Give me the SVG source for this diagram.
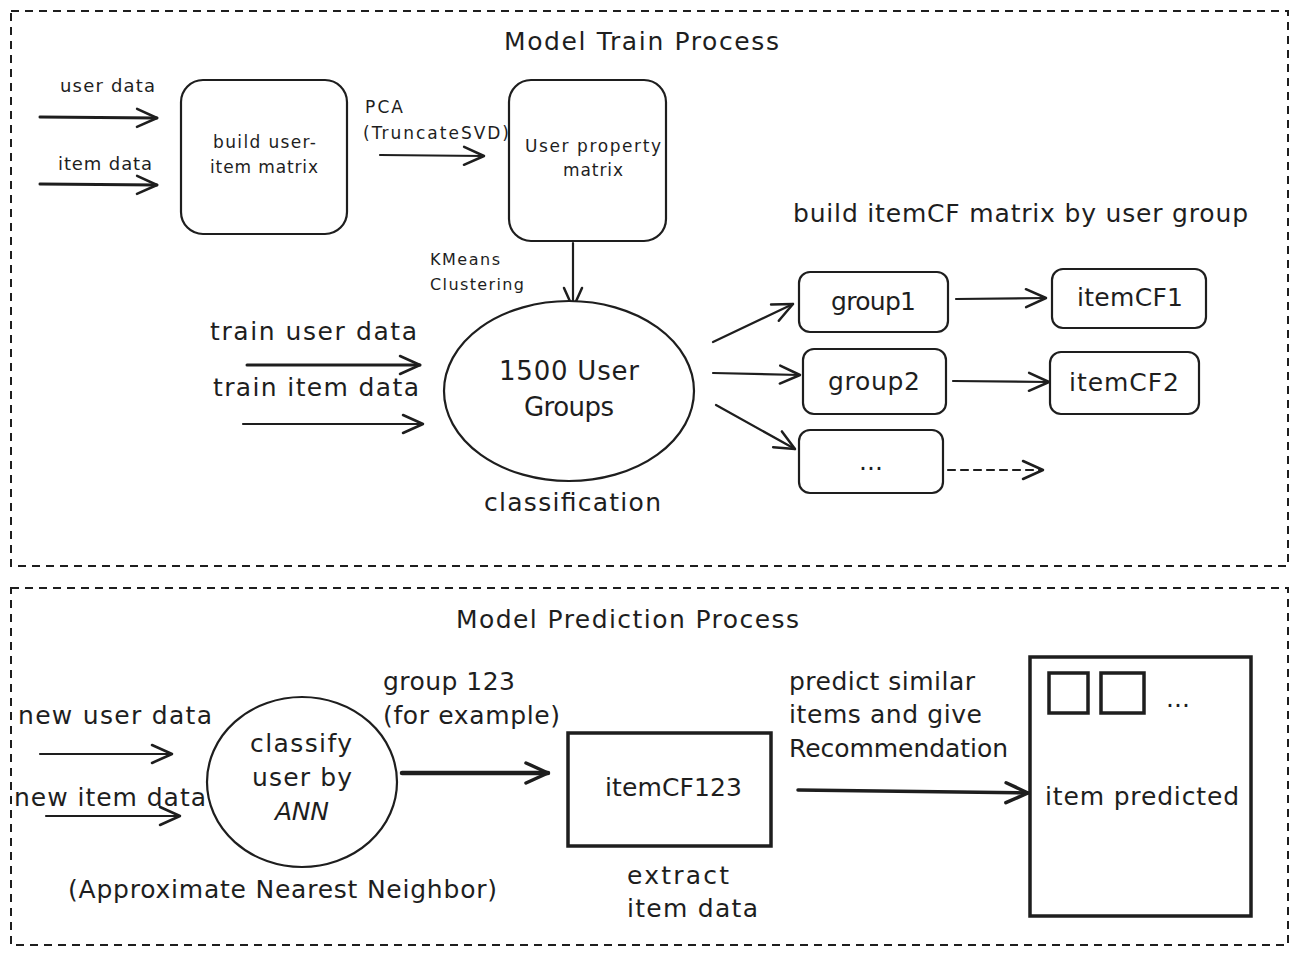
<svg xmlns="http://www.w3.org/2000/svg" width="1300" height="955" viewBox="0 0 1300 955">
<defs>
<style>
.t{font-family:"DejaVu Sans","Liberation Sans",sans-serif;fill:#1e1e1e;}
.s16{font-size:16px}.s17{font-size:17px}.s18{font-size:18px}.s24{font-size:25px}.s25{font-size:26px}
.box{fill:#fff;stroke:#1e1e1e;stroke-width:2.2}
.thick{fill:#fff;stroke:#1e1e1e;stroke-width:3.5}
.frame{fill:none;stroke:#1e1e1e;stroke-width:2;stroke-dasharray:8 6}
.c{fill:none;stroke:#1e1e1e;stroke-width:2.2;stroke-linecap:round}
</style>
<marker id="ah" viewBox="0 0 24 24" markerWidth="24" markerHeight="24" refX="22" refY="12" orient="auto" markerUnits="userSpaceOnUse">
<path d="M2,3 L22,12 L2,21" fill="none" stroke="#1e1e1e" stroke-width="2.5" stroke-linecap="round" stroke-linejoin="round"/>
</marker>
<marker id="ahT" viewBox="0 0 28 28" markerWidth="28" markerHeight="28" refX="25" refY="14" orient="auto" markerUnits="userSpaceOnUse">
<path d="M3,4 L25,14 L3,24" fill="none" stroke="#1e1e1e" stroke-width="3.5" stroke-linecap="round" stroke-linejoin="round"/>
</marker>
</defs>
<rect width="1300" height="955" fill="#fff"/>

<g id="frame-train">
<rect class="frame" x="11" y="11" width="1277" height="555"/>
<text class="t s24" x="504" y="50" textLength="275" lengthAdjust="spacing">Model Train Process</text>
</g>
<g id="frame-predict">
<rect class="frame" x="11" y="588" width="1277" height="357"/>
<text class="t s24" x="456" y="628" textLength="343" lengthAdjust="spacing">Model Prediction Process</text>
</g>

<g id="connectors">
<line class="c" x1="40" y1="117" x2="157" y2="118" marker-end="url(#ah)" style="stroke-width:3"/>
<line class="c" x1="40" y1="184" x2="157" y2="185" marker-end="url(#ah)" style="stroke-width:3"/>
<line class="c" x1="380" y1="155" x2="484" y2="156" marker-end="url(#ah)"/>
<line class="c" x1="573" y1="243" x2="573" y2="308" marker-end="url(#ah)"/>
<line class="c" x1="247" y1="365" x2="420" y2="365" marker-end="url(#ah)" style="stroke-width:3"/>
<line class="c" x1="243" y1="424" x2="423" y2="424" marker-end="url(#ah)"/>
<line class="c" x1="713" y1="342" x2="793" y2="304" marker-end="url(#ah)"/>
<line class="c" x1="713" y1="373" x2="800" y2="375" marker-end="url(#ah)"/>
<line class="c" x1="716" y1="405" x2="795" y2="449" marker-end="url(#ah)"/>
<line class="c" x1="956" y1="299" x2="1046" y2="298" marker-end="url(#ah)"/>
<line class="c" x1="953" y1="381" x2="1049" y2="382" marker-end="url(#ah)"/>
<line class="c" x1="948" y1="470" x2="1043" y2="470" marker-end="url(#ah)" style="stroke-dasharray:7 6"/>
<line class="c" x1="40" y1="754" x2="172" y2="754" marker-end="url(#ah)"/>
<line class="c" x1="46" y1="816" x2="180" y2="816" marker-end="url(#ah)"/>
<line class="c" x1="402" y1="773" x2="548" y2="773" marker-end="url(#ahT)" style="stroke-width:4.5"/>
<line class="c" x1="798" y1="790" x2="1028" y2="793" marker-end="url(#ahT)" style="stroke-width:3.5"/>
</g>

<g id="input-labels">
<text class="t s18" x="60" y="92" textLength="95" lengthAdjust="spacing">user data</text>
<text class="t s18" x="58" y="170" textLength="94" lengthAdjust="spacing">item data</text>
<text class="t s17" x="365" y="113" textLength="38" lengthAdjust="spacing">PCA</text>
<text class="t s17" x="363" y="139" textLength="146" lengthAdjust="spacing">(TruncateSVD)</text>
<text class="t s16" x="430" y="265" textLength="70" lengthAdjust="spacing">KMeans</text>
<text class="t s16" x="430" y="290" textLength="94" lengthAdjust="spacing">Clustering</text>
<text class="t s24" x="210" y="340" textLength="207" lengthAdjust="spacing">train user data</text>
<text class="t s24" x="213" y="396" textLength="206" lengthAdjust="spacing">train item data</text>
<text class="t s24" x="484" y="511" textLength="177" lengthAdjust="spacing">classification</text>
<text class="t s24" x="793" y="222" textLength="455" lengthAdjust="spacing">build itemCF matrix by user group</text>
</g>

<g id="node-build-matrix">
<rect class="box" x="181" y="80" width="166" height="154" rx="22"/>
<text class="t s17" x="213" y="148" textLength="103" lengthAdjust="spacing">build user-</text>
<text class="t s17" x="210" y="173" textLength="108" lengthAdjust="spacing">item matrix</text>
</g>
<g id="node-user-property">
<rect class="box" x="509" y="80" width="157" height="161" rx="22"/>
<text class="t s17" x="525" y="152" textLength="136" lengthAdjust="spacing">User property</text>
<text class="t s17" x="563" y="176" textLength="60" lengthAdjust="spacing">matrix</text>
</g>
<g id="node-user-groups">
<ellipse class="box" cx="569" cy="391" rx="125" ry="90"/>
<text class="t s25" x="499" y="380" textLength="140" lengthAdjust="spacing">1500 User</text>
<text class="t s25" x="524" y="416" textLength="90" lengthAdjust="spacing">Groups</text>
</g>
<g id="node-group1">
<rect class="box" x="799" y="272" width="149" height="60" rx="11"/>
<text class="t s24" x="831" y="310" textLength="85" lengthAdjust="spacing">group1</text>
</g>
<g id="node-itemcf1">
<rect class="box" x="1052" y="269" width="154" height="59" rx="11"/>
<text class="t s24" x="1077" y="306" textLength="106" lengthAdjust="spacing">itemCF1</text>
</g>
<g id="node-group2">
<rect class="box" x="803" y="349" width="143" height="65" rx="11"/>
<text class="t s24" x="828" y="390" textLength="92" lengthAdjust="spacing">group2</text>
</g>
<g id="node-itemcf2">
<rect class="box" x="1050" y="352" width="149" height="62" rx="11"/>
<text class="t s24" x="1069" y="391" textLength="110" lengthAdjust="spacing">itemCF2</text>
</g>
<g id="node-group-more">
<rect class="box" x="799" y="430" width="144" height="63" rx="11"/>
<text class="t s24" x="871" y="470" text-anchor="middle">...</text>
</g>

<g id="prediction-labels">
<text class="t s24" x="18" y="724" textLength="194" lengthAdjust="spacing">new user data</text>
<text class="t s24" x="14" y="806" textLength="192" lengthAdjust="spacing">new item data</text>
<text class="t s24" x="68" y="898" textLength="429" lengthAdjust="spacing">(Approximate Nearest Neighbor)</text>
<text class="t s24" x="383" y="690" textLength="132" lengthAdjust="spacing">group 123</text>
<text class="t s24" x="383" y="724" textLength="177" lengthAdjust="spacing">(for example)</text>
<text class="t s24" x="627" y="884" textLength="102" lengthAdjust="spacing">extract</text>
<text class="t s24" x="627" y="917" textLength="131" lengthAdjust="spacing">item data</text>
<text class="t s24" x="789" y="690" textLength="186" lengthAdjust="spacing">predict similar</text>
<text class="t s24" x="789" y="723" textLength="193" lengthAdjust="spacing">items and give</text>
<text class="t s24" x="789" y="757" textLength="219" lengthAdjust="spacing">Recommendation</text>
</g>

<g id="node-classify">
<ellipse class="box" cx="302" cy="782" rx="95" ry="85"/>
<text class="t s24" x="250" y="752" textLength="102" lengthAdjust="spacing">classify</text>
<text class="t s24" x="252" y="786" textLength="100" lengthAdjust="spacing">user by</text>
<text class="t s24" x="275" y="820" textLength="54" lengthAdjust="spacing" font-style="italic">ANN</text>
</g>
<g id="node-itemcf123">
<rect class="thick" x="568" y="733" width="203" height="113"/>
<text class="t s24" x="605" y="796" textLength="137" lengthAdjust="spacing">itemCF123</text>
</g>
<g id="node-item-predicted">
<rect class="thick" x="1030" y="657" width="221" height="259"/>
<rect class="thick" x="1049" y="673" width="39" height="40"/>
<rect class="thick" x="1101" y="673" width="43" height="40"/>
<text class="t s24" x="1178" y="707" text-anchor="middle">...</text>
<text class="t s24" x="1045" y="805" textLength="194" lengthAdjust="spacing">item predicted</text>
</g>
</svg>
